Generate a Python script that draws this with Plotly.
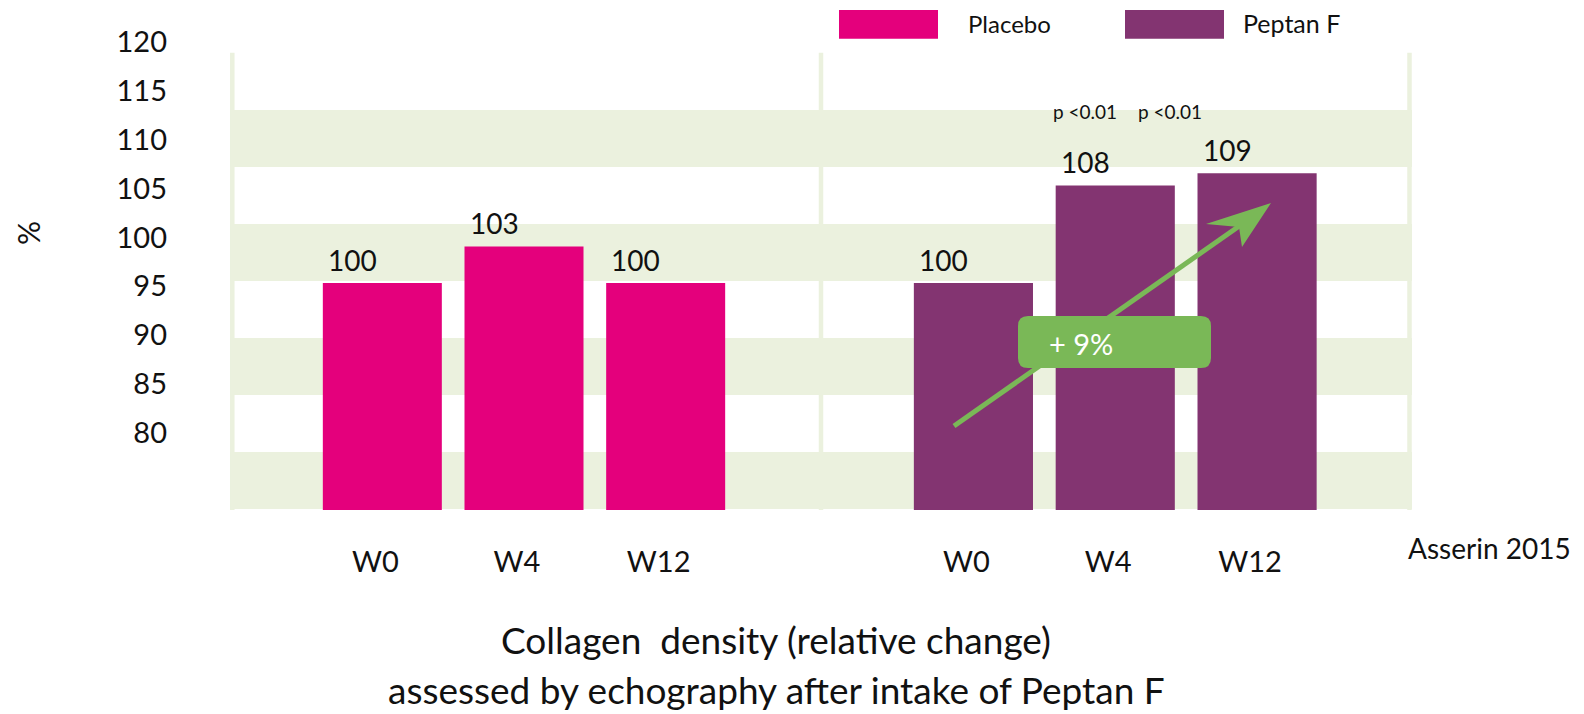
import plotly.graph_objects as go

# ---------------- data ----------------
weeks = ["W0", "W4", "W12"]
placebo_values = [100, 103, 100]
peptan_values = [100, 108, 109]
placebo_labels = ["100", "103", "100"]
peptan_labels = ["100", "108", "109"]
y_tick_values = [80, 85, 90, 95, 100, 105, 110, 115, 120]
series_names = ["Placebo", "Peptan F"]
p_value_texts = ["p <0.01", "p <0.01"]
increase_text = "+ 9%"
title_lines = ["Collagen  density (relative change)",
               "assessed by echography after intake of Peptan F"]
source_text = "Asserin 2015"

# ---------------- style ----------------
W, H = 1584, 714
FONT = "Lato, 'Open Sans', sans-serif"
PINK = "#E4007C"
PURPLE = "#833471"
BAND = "#EBF1DE"
GREEN = "#7AB857"
TXT = "#111111"


def fx(px):
    return px / W


def fy(py):
    return 1 - py / H


fig = go.Figure()
fig.add_trace(go.Bar(x=weeks, y=placebo_values, name=series_names[0],
                     marker=dict(color=PINK, line=dict(width=0)),
                     xaxis="x", yaxis="y", showlegend=False, hoverinfo="x+y"))
fig.add_trace(go.Bar(x=weeks, y=peptan_values, name=series_names[1],
                     marker=dict(color=PURPLE, line=dict(width=0)),
                     xaxis="x2", yaxis="y", showlegend=False, hoverinfo="x+y"))
# invisible trace that carries the printed % scale
fig.add_trace(go.Scatter(x=[weeks[0]] * len(y_tick_values), y=y_tick_values,
                         xaxis="x", yaxis="y2", mode="markers",
                         marker=dict(opacity=0), hoverinfo="skip",
                         showlegend=False))

shapes = []
band_edges = [(110, 167), (224, 281), (338, 395), (452, 509)]
for top, bot in band_edges:
    shapes.append(dict(type="rect", xref="paper", yref="paper",
                       x0=fx(230), x1=fx(1412), y0=fy(bot), y1=fy(top),
                       fillcolor=BAND, line=dict(width=0), layer="below"))
for cx in [232.3, 821, 1409.5]:
    shapes.append(dict(type="line", xref="paper", yref="paper",
                       x0=fx(cx), x1=fx(cx), y0=fy(510), y1=fy(52.7),
                       line=dict(color=BAND, width=4.5), layer="below"))
for x0, x1, col in [(839, 938, PINK), (1125, 1224, PURPLE)]:
    shapes.append(dict(type="rect", xref="paper", yref="paper",
                       x0=fx(x0), x1=fx(x1), y0=fy(38.7), y1=fy(10),
                       fillcolor=col, line=dict(width=0)))
shapes.append(dict(type="line", xref="paper", yref="paper",
                   x0=fx(954), y0=fy(426), x1=fx(1245), y1=fy(222),
                   line=dict(color=GREEN, width=5), layer="above"))
ah = [(1271, 203), (1206, 224), (1239, 227), (1242, 247)]
path = "M " + " L ".join(f"{fx(a):.5f},{fy(b):.5f}" for a, b in ah) + " Z"
shapes.append(dict(type="path", xref="paper", yref="paper", path=path,
                   fillcolor=GREEN, line=dict(width=0), layer="above"))
bx0, bx1, by0, by1, r = 1018, 1211, 316, 368, 10
rpath = (f"M {fx(bx0 + r)},{fy(by0)} L {fx(bx1 - r)},{fy(by0)} "
         f"Q {fx(bx1)},{fy(by0)} {fx(bx1)},{fy(by0 + r)} "
         f"L {fx(bx1)},{fy(by1 - r)} Q {fx(bx1)},{fy(by1)} {fx(bx1 - r)},{fy(by1)} "
         f"L {fx(bx0 + r)},{fy(by1)} Q {fx(bx0)},{fy(by1)} {fx(bx0)},{fy(by1 - r)} "
         f"L {fx(bx0)},{fy(by0 + r)} Q {fx(bx0)},{fy(by0)} {fx(bx0 + r)},{fy(by0)} Z")
shapes.append(dict(type="path", xref="paper", yref="paper", path=rpath,
                   fillcolor=GREEN, line=dict(width=0), layer="above"))

annotations = []


def label(x, y, text, size, color=TXT, xanchor="center", yanchor="middle",
          **kw):
    annotations.append(dict(x=fx(x), y=fy(y), xref="paper", yref="paper",
                            text=text, showarrow=False, xanchor=xanchor,
                            yanchor=yanchor,
                            font=dict(family=FONT, size=size, color=color),
                            **kw))


for xa, vals, labs in [("x", placebo_values, placebo_labels),
                       ("x2", peptan_values, peptan_labels)]:
    for w, v, t in zip(weeks, vals, labs):
        annotations.append(dict(x=w, y=v, xref=xa, yref="y", text=t,
                                showarrow=False, xshift=-30, yshift=4,
                                xanchor="center", yanchor="bottom",
                                font=dict(family=FONT, size=28, color=TXT)))
for cx, t in zip([1085, 1170], p_value_texts):
    label(cx, 111, t, 19)
label(1081, 343, increase_text, 29, color="white")
label(966, 24, series_names[0], 24, xanchor="left")
label(1241, 23, series_names[1], 25, xanchor="left")
label(28, 233, "%", 30, textangle=-90)
label(776, 639, title_lines[0], 37)
label(776, 713, title_lines[1], 37, yanchor="bottom", borderpad=0)
label(1573, 548, source_text, 28, xanchor="right")

ydom = [fy(510), fy(30)]
k = 12.2
y_range = [100 - 227 / k, 100 + 253 / k]
k2 = (432.7 - 42) / 40
y2_range = [80 - (510 - 432.7) / k2, 120 + (42 - 30) / k2]

xaxis_common = dict(showgrid=False, zeroline=False, showline=False,
                    ticks="outside", ticklen=26, tickcolor="rgba(0,0,0,0)",
                    ticklabelshift=-7,
                    tickfont=dict(family=FONT, size=29, color=TXT),
                    fixedrange=True)

fig.update_layout(
    width=W, height=H,
    margin=dict(l=0, r=0, t=0, b=0, autoexpand=False),
    paper_bgcolor="white", plot_bgcolor="rgba(0,0,0,0)",
    bargap=0.16, showlegend=False,
    xaxis=dict(domain=[fx(311.5), fx(736.5)], anchor="y", **xaxis_common),
    xaxis2=dict(domain=[fx(902.5), fx(1328)], anchor="y", **xaxis_common),
    yaxis=dict(domain=ydom, range=y_range, showgrid=False, zeroline=False,
               showline=False, showticklabels=False, ticks="",
               anchor="x", fixedrange=True),
    yaxis2=dict(domain=ydom, range=y2_range, overlaying="y", anchor="free",
                position=fx(167), side="left", tickvals=y_tick_values,
                showgrid=False, zeroline=False, showline=False, ticks="",
                tickfont=dict(family=FONT, size=29, color=TXT),
                fixedrange=True),
    shapes=shapes, annotations=annotations,
)

fig.write_html("out.html",
               config={"displayModeBar": False, "staticPlot": True},
               post_script="document.body.style.margin='0px';"
                           "document.body.style.overflow='hidden';")
